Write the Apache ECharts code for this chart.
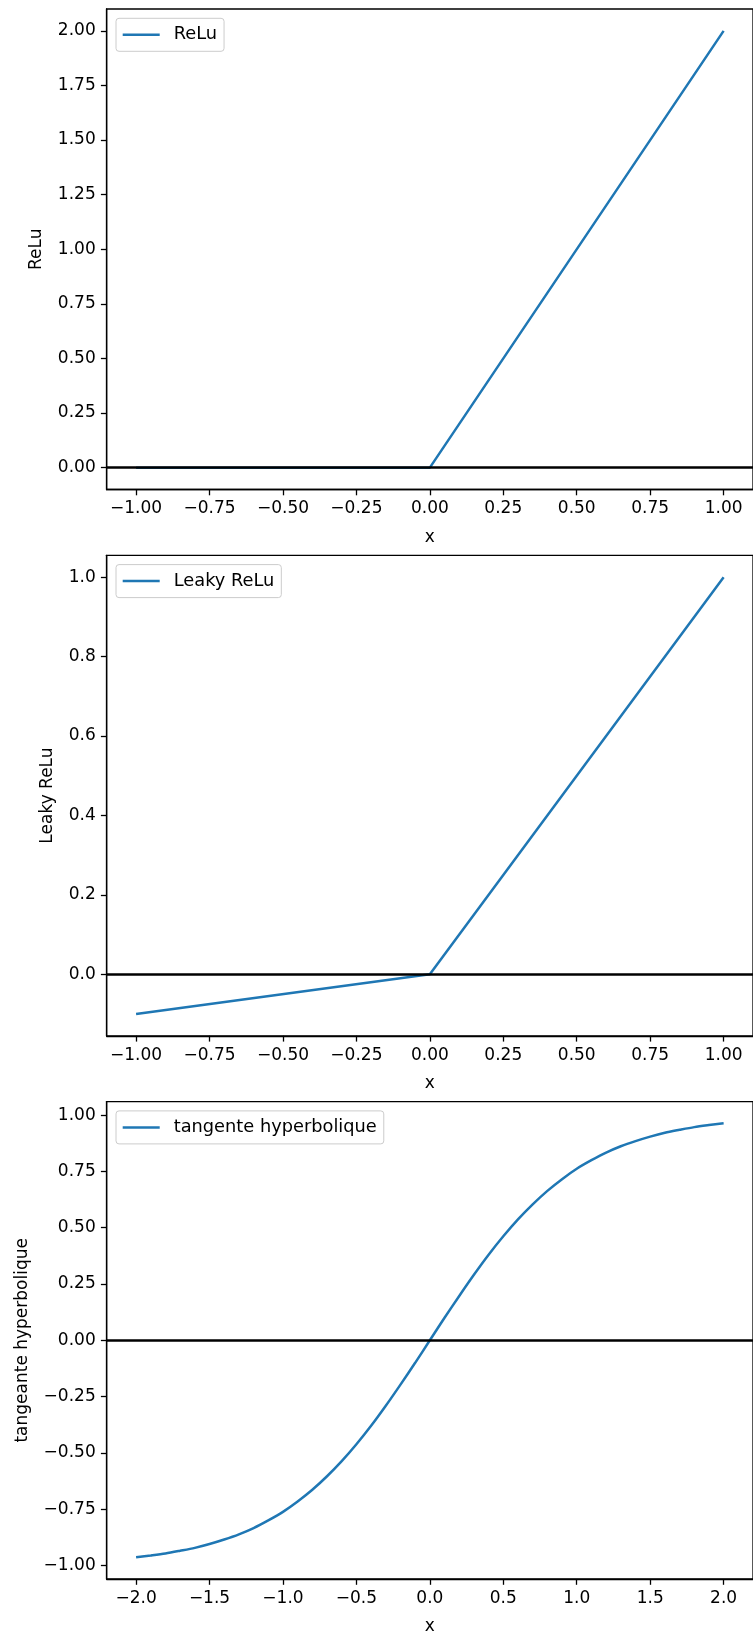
<!DOCTYPE html>
<html>
<head>
<meta charset="utf-8">
<script src="https://cdn.jsdelivr.net/npm/echarts@6/dist/echarts.min.js"></script>
<style>
html,body{margin:0;padding:0;background:#fff;}
#c{width:753px;height:1638px;}
</style>
</head>
<body>
<div id="c"></div>
<script>
// ---- data ----
const reluX = [-1.0, 0.0, 1.0];
const reluY = [0.0, 0.0, 2.0];

const leakyX = [-1.0, 0.0, 1.0];
const leakyY = [-0.1, 0.0, 1.0];

const tanhX = [-2.0,-1.9,-1.8,-1.7,-1.6,-1.5,-1.4,-1.3,-1.2,-1.1,-1.0,-0.9,-0.8,-0.7,-0.6,-0.5,-0.4,-0.3,-0.2,-0.1,
               0.0,0.1,0.2,0.3,0.4,0.5,0.6,0.7,0.8,0.9,1.0,1.1,1.2,1.3,1.4,1.5,1.6,1.7,1.8,1.9,2.0];
const tanhY = [-0.964,-0.956,-0.947,-0.935,-0.922,-0.905,-0.885,-0.862,-0.834,-0.800,-0.762,-0.716,-0.664,-0.604,-0.537,-0.462,-0.380,-0.291,-0.197,-0.100,
               0.000,0.100,0.197,0.291,0.380,0.462,0.537,0.604,0.664,0.716,0.762,0.800,0.834,0.862,0.885,0.905,0.922,0.935,0.947,0.956,0.964];

const xTicks1 = [-1.0,-0.75,-0.5,-0.25,0.0,0.25,0.5,0.75,1.0];
const yTicks1 = [0.0,0.25,0.5,0.75,1.0,1.25,1.5,1.75,2.0];
const xTicks2 = [-1.0,-0.75,-0.5,-0.25,0.0,0.25,0.5,0.75,1.0];
const yTicks2 = [0.0,0.2,0.4,0.6,0.8,1.0];
const xTicks3 = [-2.0,-1.5,-1.0,-0.5,0.0,0.5,1.0,1.5,2.0];
const yTicks3 = [-1.0,-0.75,-0.5,-0.25,0.0,0.25,0.5,0.75,1.0];

const names = ['ReLu', 'Leaky ReLu', 'tangente hyperbolique'];
const yNames = ['ReLu', 'Leaky ReLu', 'tangeante hyperbolique'];
const xName = 'x';

// ---- styling ----
const FONT = 'DejaVu Sans';
const FS = 17;
const LFS = 17.8;
const BLUE = '#1f77b4';
const gridTops = [9, 555.3, 1101.6];
const gridH = 480.5;
const gridLeft = 106.7;
const gridW = 648;

function fmt(d){
  return function(v){
    const s = Math.abs(v).toFixed(d);
    return (v < -1e-9 ? '\u2212' : '') + s;
  };
}

function xAxisCfg(i, min, max, ticks, dec){
  return {
    gridIndex:i, type:'value', min:min, max:max,
    axisLine:{show:true, onZero:false, lineStyle:{color:'#000', width:1.3}},
    axisTick:{show:true, length:5.8, customValues:ticks, lineStyle:{color:'#000', width:1.3}},
    axisLabel:{customValues:ticks, formatter:fmt(dec), margin:11, color:'#000', fontSize:FS, fontFamily:FONT},
    splitLine:{show:false},
    name:xName, nameLocation:'middle', nameGap:38,
    nameTextStyle:{color:'#000', fontSize:FS, fontFamily:FONT, lineHeight:20}
  };
}
function yAxisCfg(i, min, max, ticks, dec, name, gap){
  return {
    gridIndex:i, type:'value', min:min, max:max,
    axisLine:{show:true, onZero:false, lineStyle:{color:'#000', width:1.3}},
    axisTick:{show:true, length:5.8, customValues:ticks, lineStyle:{color:'#000', width:1.3}},
    axisLabel:{customValues:ticks, formatter:fmt(dec), margin:11, color:'#000', fontSize:FS, fontFamily:FONT},
    splitLine:{show:false},
    name:name, nameLocation:'middle', nameGap:gap,
    nameTextStyle:{color:'#000', fontSize:FS, fontFamily:FONT, lineHeight:20}
  };
}
function pairs(xs, ys){ return xs.map((x,k)=>[x, ys[k]]); }
function seriesCfg(i, name, xs, ys, smooth){
  return {
    type:'line', name:name, xAxisIndex:i, yAxisIndex:i,
    data:pairs(xs, ys), showSymbol:false, symbol:'none', smooth:smooth,
    lineStyle:{color:BLUE, width:2.5}, itemStyle:{color:BLUE},
    animation:false, z:2,
    markLine:{silent:true, symbol:'none', animation:false, z:3,
      label:{show:false},
      lineStyle:{color:'#000', width:2.5, type:'solid'},
      emphasis:{disabled:true},
      data:[{yAxis:0}]}
  };
}
function legendCfg(i, name){
  return {
    data:[name], left:gridLeft + 9.3, top:gridTops[i] + 9.3, orient:'vertical',
    icon:'rect', itemWidth:37, itemHeight:2.5,
    padding:[6.5, 7, 6.5, 6.7],
    backgroundColor:'rgba(255,255,255,0.8)', borderColor:'#cccccc', borderWidth:1, borderRadius:3,
    textStyle:{color:'#000', fontSize:LFS, fontFamily:FONT, lineHeight:20, padding:[0,0,0,9]},
    selectedMode:false
  };
}

const chart = echarts.init(document.getElementById('c'), null, {renderer:'canvas'});
chart.setOption({
  animation:false,
  backgroundColor:'#fff',
  grid: gridTops.map(t => ({left:gridLeft, top:t, width:gridW, height:gridH, show:true, borderColor:'#000', borderWidth:1.3, backgroundColor:'transparent', containLabel:false})),
  xAxis:[
    xAxisCfg(0, -1.1, 1.1, xTicks1, 2),
    xAxisCfg(1, -1.1, 1.1, xTicks2, 2),
    xAxisCfg(2, -2.2, 2.2, xTicks3, 1)
  ],
  yAxis:[
    yAxisCfg(0, -0.1, 2.1, yTicks1, 2, yNames[0], 53),
    yAxisCfg(1, -0.155, 1.055, yTicks2, 1, yNames[1], 44),
    yAxisCfg(2, -1.0604, 1.0604, yTicks3, 2, yNames[2], 73)
  ],
  legend:[legendCfg(0, names[0]), legendCfg(1, names[1]), legendCfg(2, names[2])],
  series:[
    seriesCfg(0, names[0], reluX, reluY, false),
    seriesCfg(1, names[1], leakyX, leakyY, false),
    seriesCfg(2, names[2], tanhX, tanhY, 0.3)
  ]
});
</script>
</body>
</html>
